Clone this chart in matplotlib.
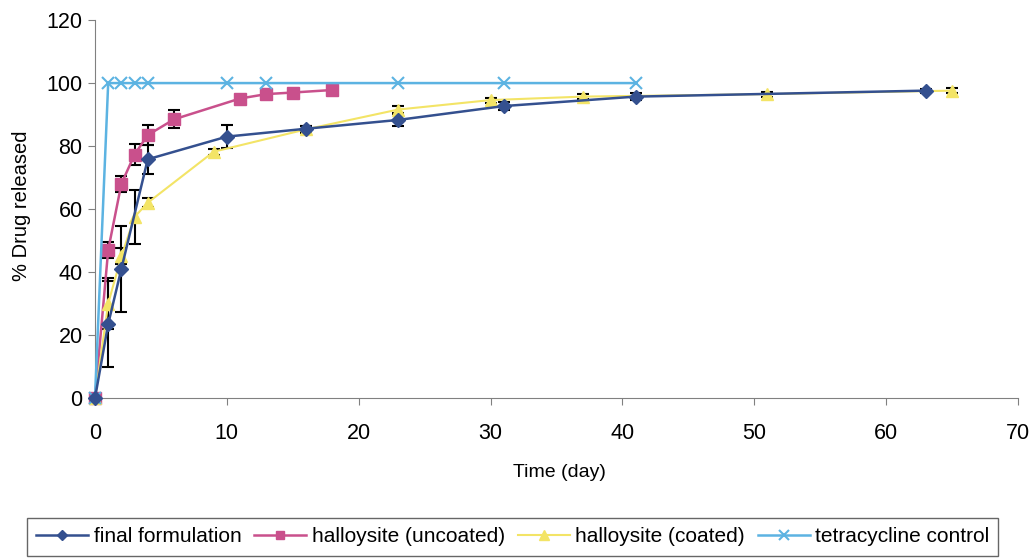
#!/usr/bin/python
# Drug release profile - final formulation vs halloysite vs tetracycline control

import matplotlib
matplotlib.use("Agg")
import matplotlib.pyplot as plt

plt.rcParams['font.family'] = ['Liberation Sans', 'DejaVu Sans']

############################### Data ###############################
# final formulation
final_days = [0, 1, 2, 4, 10, 16, 23, 31, 41, 63]
final_pct = [0, 23.5, 41, 75.8, 83, 85.5, 88.3, 92.7, 95.7, 97.6]
final_err = [0, 13.5, 13.6, 4.6, 3.6, 1.0, 2.0, 1.2, 1.2, 0.6]

# halloysite (uncoated)
uncoated_days = [0, 1, 2, 3, 4, 6, 11, 13, 15, 18]
uncoated_pct = [0, 47, 68, 77.3, 83.5, 88.5, 95.1, 96.5, 97, 97.8]
uncoated_err = [0, 2.6, 2.6, 3.4, 3.3, 2.9, 1.0, 1.2, 1.0, 1.0]

# halloysite (coated)
coated_days = [0, 1, 2, 3, 4, 9, 16, 23, 30, 37, 51, 65]
coated_pct = [0, 30, 45, 57.5, 62, 78.2, 85.3, 91.6, 94.6, 95.7, 96.5, 97.6]
coated_err = [0, 8.0, 2.5, 8.7, 1.5, 1.0, 1.0, 1.0, 0.8, 0.8, 0.8, 0.8]

# tetracycline control
control_days = [0, 1, 2, 3, 4, 10, 13, 23, 31, 41]
control_pct = [0, 100, 100, 100, 100, 100, 100, 100, 100, 100]

series_labels = ["final formulation", "halloysite (uncoated)",
                 "halloysite (coated)", "tetracycline control"]

############################### Plotting ###############################
fig = plt.figure(figsize=(10.36, 5.58), dpi=100)
ax = fig.add_axes([0.0917, 0.2867, 0.8909, 0.6773])

err_kw = dict(ecolor="black", elinewidth=1.5, capsize=4, capthick=1.5)

# error bars first so the markers sit on top
ax.errorbar(final_days, final_pct, yerr=final_err, fmt="none", zorder=2, **err_kw)
ax.errorbar(uncoated_days, uncoated_pct, yerr=uncoated_err, fmt="none", zorder=2, **err_kw)
ax.errorbar(coated_days, coated_pct, yerr=coated_err, fmt="none", zorder=2, **err_kw)

ax.plot(final_days, final_pct, color="#34508f", lw=1.8, marker="D", ms=7,
        label=series_labels[0], zorder=4)
ax.plot(uncoated_days, uncoated_pct, color="#c9508c", lw=1.8, marker="s", ms=8,
        label=series_labels[1], zorder=3)
ax.plot(coated_days, coated_pct, color="#f3e466", lw=1.5, marker="^", ms=9,
        label=series_labels[2], zorder=3)
ax.plot(control_days, control_pct, color="#5cb3e2", lw=1.8, marker="x", ms=9, mew=1.5,
        label=series_labels[3], zorder=3)

ax.set_xlim(0, 70)
ax.set_ylim(0, 120)
ax.set_xticks(range(0, 71, 10))
ax.set_yticks(range(0, 121, 20))
ax.tick_params(labelsize=15.5, length=5, color="#808080")
ax.tick_params(axis="x", pad=13)
ax.tick_params(axis="y", pad=4)

ax.set_xlabel("Time (day)", fontsize=14)
ax.xaxis.set_label_coords(0.503, -0.196)
ax.xaxis.label.set_va("center")
ax.set_ylabel("% Drug released", fontsize=14.5)
ax.yaxis.set_label_coords(-0.08, 0.51)
ax.yaxis.label.set_va("center")

for side in ["top", "right"]:
    ax.spines[side].set_visible(False)
for side in ["left", "bottom"]:
    ax.spines[side].set_color("#808080")
for ln in ax.lines:
    ln.set_clip_on(False)

# legend box: left edge ~x=27px, top ~y=518px, runs to the bottom of the figure
leg = fig.legend(loc="upper left", bbox_to_anchor=(27 / 1036, 1 - 518 / 558), ncol=4,
                 fontsize=15, frameon=True, fancybox=False, edgecolor="#404040",
                 handlelength=2.5, handletextpad=0.25, columnspacing=0.62,
                 borderpad=0.45, borderaxespad=0, markerscale=0.8)
leg.get_frame().set_linewidth(1.0)

plt.savefig("out.png", dpi=100)
